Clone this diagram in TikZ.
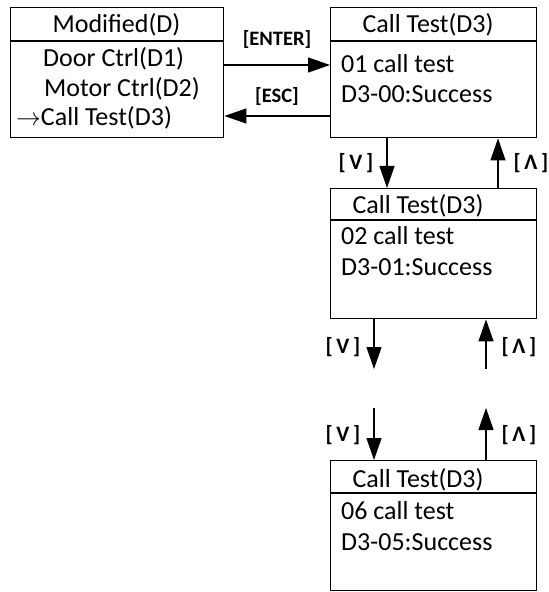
\documentclass[tikz,border=0pt]{standalone}
\usepackage{fontspec}
\setmainfont{Carlito}
\usetikzlibrary{arrows.meta}
\tikzset{
  box/.style={draw, line width=1.4bp, minimum width=206bp, minimum height=130bp, anchor=north west, inner sep=0pt},
  lbox/.style={box, minimum width=213bp},
  txt/.style={inner sep=0pt, font=\fontsize{26bp}{30bp}\selectfont},
  lbl/.style={inner sep=0pt, font=\fontsize{20.5bp}{24bp}\selectfont\bfseries},
  klbl/.style={inner sep=0pt, font=\fontsize{22bp}{26bp}\selectfont\bfseries},
  arr/.style={line width=1.2bp, -{Triangle[length=22bp,width=15bp]}},
  divider/.style={line width=1.4bp}
}
\begin{document}
\begin{tikzpicture}[x=1bp,y=-1bp]
\useasboundingbox (0,0) rectangle (549,592);
% boxes
\node[lbox] (m) at (10,7) {};
\node[box] (t) at (330,7) {};
\node[box] (s) at (330,188) {};
\node[box] (u) at (330,460) {};
% dividers
\draw[divider] ([yshift=-34bp]m.north west) -- ([yshift=-34bp]m.north east);
\draw[divider] ([yshift=-34bp]t.north west) -- ([yshift=-34bp]t.north east);
\draw[divider] ([yshift=-32bp]s.north west) -- ([yshift=-32bp]s.north east);
\draw[divider] ([yshift=-33bp]u.north west) -- ([yshift=-33bp]u.north east);
% texts left box
\node[txt] (mt) at (116.5,25) {Modified(D)};
\node[txt, anchor=west] (m1) at (43,59) {Door Ctrl(D1)};
\node[txt, anchor=west] (m2) at (44,89) {Motor Ctrl(D2)};
\node[txt, anchor=west] (m3) at (16,118) {$\rightarrow$Call Test(D3)};
% top right box
\node[txt] (tt) at (428,25) {Call Test(D3)};
\node[txt, anchor=west] (t1) at (341,64) {01 call test};
\node[txt, anchor=west] (t2) at (341,94) {D3-00:Success};
% second box
\node[txt] (st) at (418,206) {Call Test(D3)};
\node[txt, anchor=west] (s1) at (341,236) {02 call test};
\node[txt, anchor=west] (s2) at (341,267) {D3-01:Success};
% third box
\node[txt] (ut) at (418,480) {Call Test(D3)};
\node[txt, anchor=west] (u1) at (341,511) {06 call test};
\node[txt, anchor=west] (u2) at (341,542) {D3-05:Success};
% horizontal arrows
\coordinate (yE) at (0,65);
\coordinate (yS) at (0,116);
\draw[arr] (m.east |- yE) -- (t.west |- yE);
\draw[arr] (t.west |- yS) -- (m.east |- yS);
\node[lbl] (enter) at (277,40) {[ENTER]};
\node[lbl] (esc) at (277,97) {[ESC]};
% vertical arrows top
\coordinate (xd1) at (387,0);
\coordinate (xu1) at (498,0);
\draw[arr] (t.south -| xd1) -- (s.north -| xd1);
\draw[arr] (s.north -| xu1) -- (t.south -| xu1);
\node[klbl] (v1) at (356,163) {[\,V\,]};
\node[klbl] (a1) at (531,163) {[\,Λ\,]};
% vertical arrows middle
\coordinate (xd2) at (374,0);
\coordinate (xu2) at (486,0);
\coordinate (e1) at (374,369);
\coordinate (e2) at (486,369);
\coordinate (e3) at (374,408);
\coordinate (e4) at (486,408);
\draw[arr] (s.south -| xd2) -- (e1);
\draw[arr] (e2) -- (s.south -| xu2);
\node[klbl] (v2) at (343,347) {[\,V\,]};
\node[klbl] (a2) at (519,347) {[\,Λ\,]};
\draw[arr] (e3) -- (u.north -| xd2);
\draw[arr] (u.north -| xu2) -- (e4);
\node[klbl] (v3) at (343,435) {[\,V\,]};
\node[klbl] (a3) at (519,435) {[\,Λ\,]};
\end{tikzpicture}
\end{document}
